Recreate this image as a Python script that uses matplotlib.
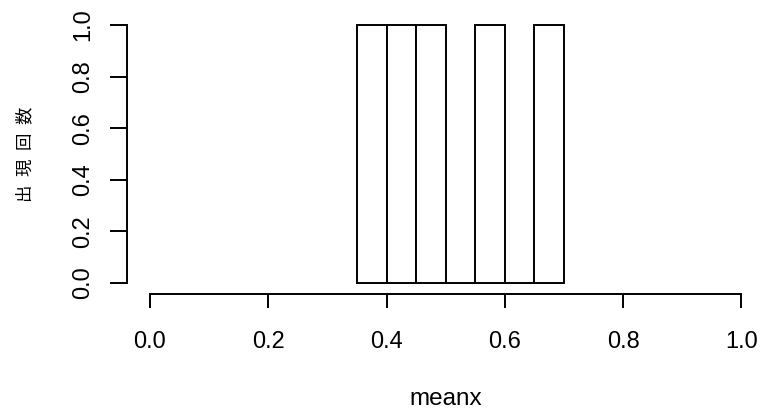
import matplotlib
matplotlib.use("Agg")
import matplotlib.pyplot as plt
import numpy as np

bin_edges = [0.35, 0.40, 0.45, 0.50, 0.55, 0.60, 0.65, 0.70]
counts = [1, 1, 1, 0, 1, 0, 1]
xticks = [0.0, 0.2, 0.4, 0.6, 0.8, 1.0]
yticks = [0.0, 0.2, 0.4, 0.6, 0.8, 1.0]
xlabel = "meanx"
ylabel = "出\u2002現\u2002回\u2002数"

W, H = 763, 409
fig = plt.figure(figsize=(W / 100, H / 100), dpi=100)

# pixel mapping: x=0 -> 150px, x=1 -> 741.4px ; y=0 -> 283px, y=1 -> 25px
px_per_x = 591.4
x0px = 150.0
px_per_y = 258.0
y0px = 283.0
L, R, T, B = 100, 755, 10, 315
xlim = ((L - x0px) / px_per_x, (R - x0px) / px_per_x)
ylim = ((y0px - B) / px_per_y, (y0px - T) / px_per_y)
ax = fig.add_axes([L / W, 1 - B / H, (R - L) / W, (B - T) / H])
ax.set_xlim(*xlim)
ax.set_ylim(*ylim)

lefts = np.array(bin_edges[:-1])
widths = np.diff(bin_edges)
ax.bar(lefts, counts, width=widths, align="edge", facecolor="white",
       edgecolor="black", linewidth=1.4)

for s in ["top", "right"]:
    ax.spines[s].set_visible(False)
ax.spines["left"].set_position(("data", (126.5 - x0px) / px_per_x))
ax.spines["left"].set_bounds(0, 1)
ax.spines["bottom"].set_position(("data", (y0px - 294) / px_per_y))
ax.spines["bottom"].set_bounds(0, 1)
for s in ["left", "bottom"]:
    ax.spines[s].set_linewidth(1.4)

ax.set_xticks(xticks)
ax.set_xticklabels([f"{v:.1f}" for v in xticks])
ax.set_yticks(yticks)
ax.set_yticklabels([f"{v:.1f}" for v in yticks], rotation=90, va="center")
ax.tick_params(axis="x", length=10, width=1.4, pad=17, labelsize=17)
ax.tick_params(axis="y", length=12, width=1.4, pad=11, labelsize=17)
for lab in ax.get_xticklabels() + ax.get_yticklabels():
    lab.set_fontfamily(["Liberation Sans", "DejaVu Sans"])

fig.text(446 / W, 1 - 405 / H, xlabel, ha="center", va="baseline", fontsize=17.5,
         family=["Liberation Sans", "DejaVu Sans"])
fig.text(25 / W, 1 - 154 / H, ylabel, ha="center", va="center", fontsize=12.5,
         rotation=90, family=["Noto Sans CJK JP", "DejaVu Sans"])

fig.savefig("out.png", dpi=100)
